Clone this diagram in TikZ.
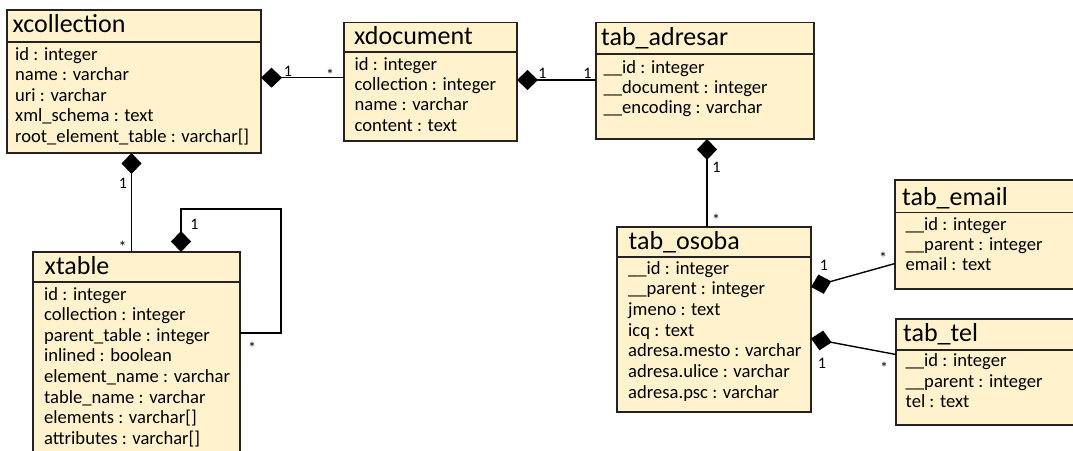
\documentclass[tikz,border=0pt]{standalone}
\usepackage{fontspec}
\setmainfont{Carlito}
\usetikzlibrary{arrows.meta}
\definecolor{clsfill}{RGB}{255,242,204}
\definecolor{clsline}{RGB}{35,35,35}
\tikzset{
 cls/.style={draw=clsline, fill=clsfill, line width=1.4pt, rectangle, anchor=north west, inner sep=0pt, outer sep=0pt},
 sep/.style={draw=clsline, line width=1.4pt},
 ttl/.style={anchor=base west, inner sep=0pt, font=\fontsize{26}{30}\selectfont},
 attr/.style={anchor=base west, inner sep=0pt, font=\fontsize{18.6}{22}\selectfont},
 mult/.style={anchor=base, inner sep=0pt, font=\fontsize{16}{19}\selectfont},
 comp/.style={line width=1.4pt, draw=black, {Diamond[length=21pt,width=20pt,fill=black]}-},
}
\newcommand\attrlist[4]{\foreach \t [count=\i from 0] in {#4} {\node[attr] at (#1,#2+\i*#3) {\t};}}
\begin{document}
\begin{tikzpicture}[x=1pt,y=-1pt]
\useasboundingbox (0,0) rectangle (1073,450);
\clip (0,0) rectangle (1073,450);
% xcollection
\node[cls, minimum width=254pt, minimum height=143pt] (xcoll) at (7,10) {};
\draw[sep] (xcoll.west |- 0,42) -- (xcoll.east |- 0,42);
\node[ttl] (xcollT) at (12.5,32.3) {xcollection};
\attrlist{15}{60}{20.6}{id : integer, name : varchar, uri : varchar, xml\_schema : text, root\_element\_table : varchar[]}
% xdocument
\node[cls, minimum width=173pt, minimum height=118.3pt] (xdoc) at (344,22.7) {};
\draw[sep] (xdoc.west |- 0,52) -- (xdoc.east |- 0,52);
\node[ttl] (xdocT) at (354,44) {xdocument};
\attrlist{354.5}{70}{20.4}{id : integer, collection : integer, name : varchar, content : text}
% tab_adresar
\node[cls, minimum width=218pt, minimum height=116.3pt] (adr) at (596,22.7) {};
\draw[sep] (adr.west |- 0,54) -- (adr.east |- 0,54);
\node[ttl] (adrT) at (601,45.7) {tab\_adresar};
\attrlist{603.5}{73.3}{20.3}{\_\_id : integer, \_\_document : integer, \_\_encoding : varchar}
% xtable
\node[cls, minimum width=207pt, minimum height=218pt] (xtab) at (33,252) {};
\draw[sep] (xtab.west |- 0,282) -- (xtab.east |- 0,282);
\node[ttl] (xtabT) at (44.5,274.3) {xtable};
\attrlist{44}{300}{20.6}{id : integer, collection : integer, parent\_table : integer, inlined : boolean, element\_name : varchar, table\_name : varchar, elements : varchar[], attributes : varchar[]}
% tab_osoba
\node[cls, minimum width=194pt, minimum height=185pt] (oso) at (617,227) {};
\draw[sep] (oso.west |- 0,257) -- (oso.east |- 0,257);
\node[ttl] (osoT) at (628.5,249) {tab\_osoba};
\attrlist{628}{274}{20.7}{\_\_id : integer, \_\_parent : integer, jmeno : text, icq : text, adresa.mesto : varchar, adresa.ulice : varchar, adresa.psc : varchar}
% tab_email
\node[cls, minimum width=210pt, minimum height=109pt] (eml) at (895,180) {};
\draw[sep] (eml.west |- 0,212.5) -- (eml.east |- 0,212.5);
\node[ttl] (emlT) at (902,205) {tab\_email};
\attrlist{905.5}{230}{20.3}{\_\_id : integer, \_\_parent : integer, email : text}
% tab_tel
\node[cls, minimum width=210pt, minimum height=106pt] (tel) at (896,319) {};
\draw[sep] (tel.west |- 0,350) -- (tel.east |- 0,350);
\node[ttl] (telT) at (903,341.7) {tab\_tel};
\attrlist{905.5}{366.7}{20.3}{\_\_id : integer, \_\_parent : integer, tel : text}
% connectors
\draw[comp] (xcoll.east |- 0,77.7) -- (xdoc.west |- 0,77.7);
\draw[comp] (xdoc.east |- 0,80) -- (adr.west |- 0,80);
\draw[comp] (xcoll.south -| 131.5,0) -- (xtab.north -| 131.5,0);
\draw[comp] (xtab.north -| 181,0) -- (181,209) -- (281,209) -- (281,333) -- (xtab.east |- 0,333);
\draw[comp] (adr.south -| 707,0) -- (oso.north -| 707,0);
\draw[comp] (oso.east |- 0,287) -- (eml.west |- 0,263.5);
\draw[comp] (oso.east |- 0,338.5) -- (tel.west |- 0,354.5);
% multiplicities
\node[mult] (m1) at (288,76.5) {1};
\node[mult] (m2) at (330,80) {*};
\node[mult] (m3) at (542.5,78) {1};
\node[mult] (m4) at (587.5,78) {1};
\node[mult] (m5) at (123,188) {1};
\node[mult] (m6) at (122.5,252.5) {*};
\node[mult] (m7) at (194.5,229) {1};
\node[mult] (m8) at (252,353) {*};
\node[mult] (m9) at (716.5,172) {1};
\node[mult] (m10) at (716,225.5) {*};
\node[mult] (m11) at (824,270) {1};
\node[mult] (m12) at (883,263) {*};
\node[mult] (m13) at (822,368) {1};
\node[mult] (m14) at (884,373) {*};
\end{tikzpicture}
\end{document}
